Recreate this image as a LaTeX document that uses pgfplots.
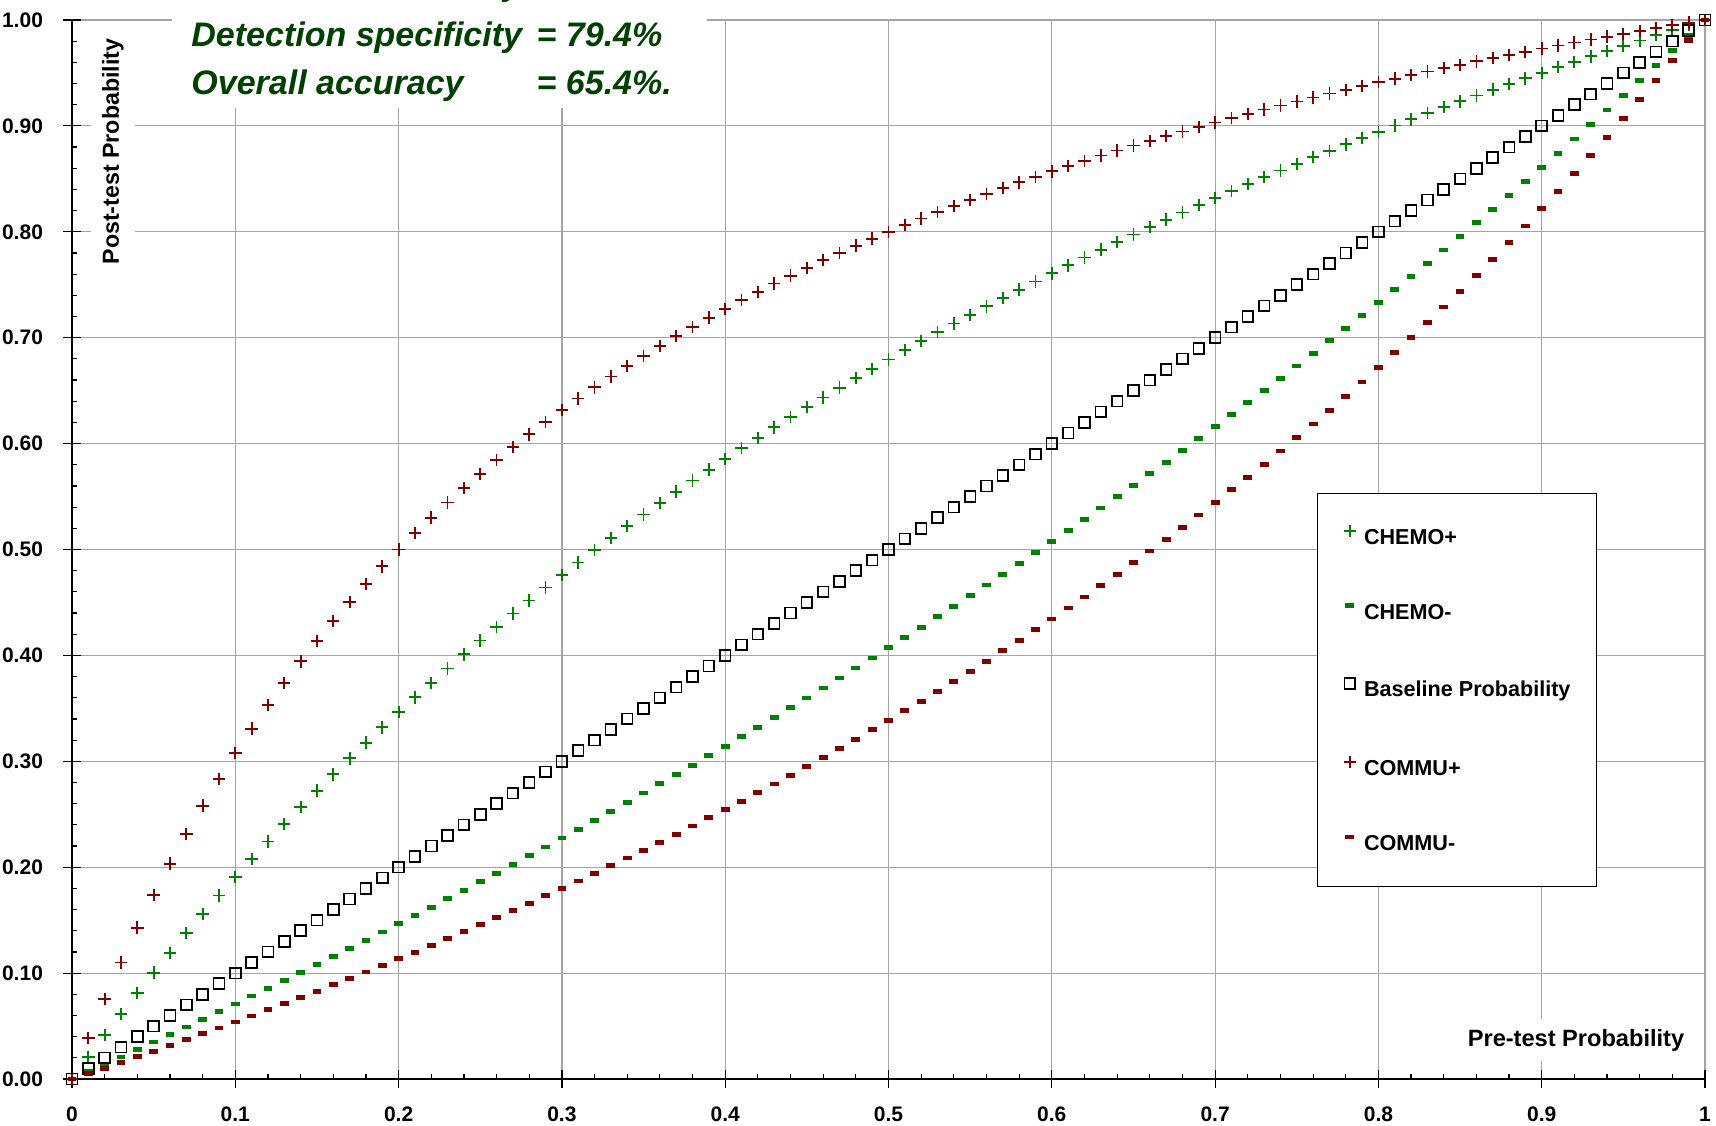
\documentclass[border=0pt]{standalone}
\usepackage{pgfplots}
\pgfplotsset{compat=1.18}
\usepackage{pgfplotstable}
\usepackage{fontspec}
\setmainfont{Liberation Sans}
\definecolor{cgreen}{RGB}{0,128,0}
\definecolor{cred}{RGB}{128,0,0}
\definecolor{tgreen}{RGB}{0,64,0}
\definecolor{gridgray}{RGB}{165,165,165}

\pgfplotstableread{
x cp cm bl mp mm
0.00 0 0 0 0 0
0.01 0.0210 0.0069 0.01 0.0388 0.0051
0.02 0.0415 0.0138 0.02 0.0755 0.0103
0.03 0.0615 0.0208 0.03 0.1101 0.0156
0.04 0.0812 0.0278 0.04 0.1429 0.0209
0.05 0.1004 0.0349 0.05 0.1739 0.0262
0.06 0.1192 0.0420 0.06 0.2034 0.0316
0.07 0.1376 0.0492 0.07 0.2314 0.0371
0.08 0.1557 0.0564 0.08 0.2581 0.0426
0.09 0.1733 0.0636 0.09 0.2835 0.0482
0.10 0.1906 0.0709 0.10 0.3077 0.0538
0.11 0.2076 0.0783 0.11 0.3308 0.0595
0.12 0.2243 0.0857 0.12 0.3529 0.0653
0.13 0.2406 0.0931 0.13 0.3741 0.0711
0.14 0.2566 0.1006 0.14 0.3944 0.0769
0.15 0.2723 0.1081 0.15 0.4138 0.0829
0.16 0.2877 0.1157 0.16 0.4324 0.0889
0.17 0.3028 0.1234 0.17 0.4503 0.0949
0.18 0.3176 0.1310 0.18 0.4675 0.1010
0.19 0.3321 0.1388 0.19 0.4841 0.1072
0.20 0.3464 0.1466 0.20 0.5000 0.1135
0.21 0.3604 0.1544 0.21 0.5153 0.1198
0.22 0.3742 0.1623 0.22 0.5301 0.1262
0.23 0.3877 0.1703 0.23 0.5444 0.1327
0.24 0.4010 0.1783 0.24 0.5581 0.1392
0.25 0.4141 0.1863 0.25 0.5714 0.1458
0.26 0.4269 0.1944 0.26 0.5843 0.1525
0.27 0.4395 0.2026 0.27 0.5967 0.1592
0.28 0.4519 0.2108 0.28 0.6087 0.1660
0.29 0.4641 0.2191 0.29 0.6203 0.1730
0.30 0.4760 0.2275 0.30 0.6316 0.1799
0.31 0.4878 0.2359 0.31 0.6425 0.1870
0.32 0.4994 0.2443 0.32 0.6531 0.1942
0.33 0.5108 0.2528 0.33 0.6633 0.2014
0.34 0.5220 0.2614 0.34 0.6733 0.2087
0.35 0.5330 0.2700 0.35 0.6829 0.2161
0.36 0.5439 0.2787 0.36 0.6923 0.2236
0.37 0.5546 0.2875 0.37 0.7014 0.2312
0.38 0.5651 0.2963 0.38 0.7103 0.2389
0.39 0.5754 0.3052 0.39 0.7189 0.2466
0.40 0.5856 0.3141 0.40 0.7273 0.2545
0.41 0.5957 0.3231 0.41 0.7354 0.2624
0.42 0.6055 0.3322 0.42 0.7434 0.2705
0.43 0.6153 0.3414 0.43 0.7511 0.2786
0.44 0.6249 0.3506 0.44 0.7586 0.2869
0.45 0.6343 0.3598 0.45 0.7660 0.2952
0.46 0.6436 0.3692 0.46 0.7731 0.3037
0.47 0.6528 0.3786 0.47 0.7801 0.3123
0.48 0.6618 0.3881 0.48 0.7869 0.3209
0.49 0.6707 0.3976 0.49 0.7935 0.3297
0.50 0.6795 0.4072 0.50 0.8000 0.3386
0.51 0.6881 0.4169 0.51 0.8063 0.3476
0.52 0.6967 0.4267 0.52 0.8125 0.3568
0.53 0.7051 0.4365 0.53 0.8185 0.3660
0.54 0.7134 0.4464 0.54 0.8244 0.3754
0.55 0.7215 0.4564 0.55 0.8302 0.3849
0.56 0.7296 0.4665 0.56 0.8358 0.3945
0.57 0.7375 0.4766 0.57 0.8413 0.4043
0.58 0.7454 0.4868 0.58 0.8467 0.4142
0.59 0.7531 0.4971 0.59 0.8520 0.4242
0.60 0.7608 0.5075 0.60 0.8571 0.4344
0.61 0.7683 0.5180 0.61 0.8622 0.4447
0.62 0.7757 0.5285 0.62 0.8671 0.4551
0.63 0.7831 0.5391 0.63 0.8720 0.4658
0.64 0.7903 0.5498 0.64 0.8767 0.4765
0.65 0.7975 0.5606 0.65 0.8814 0.4874
0.66 0.8045 0.5715 0.66 0.8859 0.4985
0.67 0.8115 0.5824 0.67 0.8904 0.5097
0.68 0.8183 0.5935 0.68 0.8947 0.5211
0.69 0.8251 0.6046 0.69 0.8990 0.5326
0.70 0.8318 0.6158 0.70 0.9032 0.5443
0.71 0.8385 0.6271 0.71 0.9073 0.5563
0.72 0.8450 0.6385 0.72 0.9114 0.5683
0.73 0.8515 0.6500 0.73 0.9154 0.5806
0.74 0.8578 0.6616 0.74 0.9193 0.5930
0.75 0.8641 0.6733 0.75 0.9231 0.6057
0.76 0.8704 0.6851 0.76 0.9268 0.6185
0.77 0.8765 0.6970 0.77 0.9305 0.6316
0.78 0.8826 0.7089 0.78 0.9341 0.6448
0.79 0.8886 0.7210 0.79 0.9377 0.6582
0.80 0.8945 0.7332 0.80 0.9412 0.6719
0.81 0.9004 0.7455 0.81 0.9446 0.6858
0.82 0.9062 0.7579 0.82 0.9480 0.6999
0.83 0.9119 0.7703 0.83 0.9513 0.7143
0.84 0.9176 0.7829 0.84 0.9545 0.7289
0.85 0.9232 0.7956 0.85 0.9577 0.7437
0.86 0.9287 0.8084 0.86 0.9609 0.7588
0.87 0.9342 0.8214 0.87 0.9640 0.7741
0.88 0.9396 0.8344 0.88 0.9670 0.7897
0.89 0.9449 0.8475 0.89 0.9700 0.8055
0.90 0.9502 0.8608 0.90 0.9730 0.8217
0.91 0.9554 0.8742 0.91 0.9759 0.8381
0.92 0.9606 0.8876 0.92 0.9787 0.8548
0.93 0.9657 0.9013 0.93 0.9815 0.8718
0.94 0.9708 0.9150 0.94 0.9843 0.8892
0.95 0.9758 0.9288 0.95 0.9870 0.9068
0.96 0.9807 0.9428 0.96 0.9897 0.9247
0.97 0.9856 0.9569 0.97 0.9923 0.9430
0.98 0.9905 0.9712 0.98 0.9949 0.9617
0.99 0.9953 0.9855 0.99 0.9975 0.9807
1.00 1 1 1 1 1
}\datatable

\begin{document}
\begin{tikzpicture}
\begin{axis}[
  name=ax, scale only axis, width=816.5pt, height=529.5pt,
  xmin=0, xmax=1, ymin=0, ymax=1,
  axis x line=bottom, axis y line=left,
  axis line style={-, line width=0.6pt, black},
  clip=false,
  xtick={0,0.1,0.2,0.3,0.4,0.5,0.6,0.7,0.8,0.9,1},
  ytick={0,0.1,0.2,0.3,0.4,0.5,0.6,0.7,0.8,0.9,1},
  minor x tick num=4, minor y tick num=4,
  tick align=center, major tick length=9pt, minor tick length=2.5pt,
  tick style={black, line width=0.6pt},
  minor x tick style={yshift=1.25pt}, minor y tick style={xshift=1.25pt},
  grid=major, major grid style={gridgray, line width=0.6pt},
  /pgf/number format/assume math mode=true,
  ticklabel style={font=\bfseries\fontsize{10.5}{12}\selectfont},
  yticklabel style={/pgf/number format/.cd, fixed, fixed zerofill, precision=2, /tikz/.cd, xshift=-6.5pt},
  xticklabel style={yshift=-5.8pt},
  legend style={at={(0.7624,0.5534)}, anchor=north west, draw=black, line width=0.6pt, fill=white,
    inner xsep=13pt, inner ysep=15.5pt, row sep=27pt,
    font=\bfseries\fontsize{10.8}{13}\selectfont,
    nodes={inner sep=0pt, text height=8pt, text depth=2.5pt},
    /tikz/every odd column/.append style={column sep=4pt}},
  legend cell align=left,
  legend image code/.code={\draw[#1] plot coordinates {(0pt,3.9pt)};},
]
\fill[white] (axis cs:0.0612,0.917) rectangle (axis cs:0.3889,1.03);
\node[fill=white, rotate=90, inner xsep=8pt, inner ysep=5.5pt, font=\bfseries\fontsize{11.6}{14}\selectfont] at (rel axis cs:0.0251,0.8758) {Post-test Probability};
\node[fill=white, inner sep=5pt, font=\bfseries\fontsize{11.8}{14}\selectfont] at (rel axis cs:0.921,0.0364) {Pre-test Probability};
\begin{scope}[every node/.style={anchor=base west, inner sep=0pt, text=tgreen, font=\bfseries\itshape\fontsize{17}{20}\selectfont}]
\node at (axis cs:0.0729,1.0227) {Detection sensitivity};
\node at (axis cs:0.2843,1.0227) {= 51.5\%};
\node at (axis cs:0.0729,0.9745) {Detection specificity};
\node at (axis cs:0.2843,0.9745) {= 79.4\%};
\node at (axis cs:0.0729,0.9301) {Overall accuracy};
\node at (axis cs:0.2843,0.9301) {= 65.4\%.};
\end{scope}
\addplot[only marks, color=cgreen, mark=+, mark size=3.1pt, mark options={line width=0.9pt}] table[x=x, y=cp] {\datatable};
\addlegendentry{CHEMO+}
\addplot[only marks, color=cgreen, mark=-, mark size=2.2pt, mark options={line width=2.4pt}] table[x=x, y=cm] {\datatable};
\addlegendentry{CHEMO-}
\addplot[only marks, color=black, mark=square, mark size=2.7pt, mark options={line width=0.85pt}] table[x=x, y=bl] {\datatable};
\addlegendentry{Baseline Probability}
\addplot[only marks, color=cred, mark=+, mark size=3.1pt, mark options={line width=0.9pt}] table[x=x, y=mp] {\datatable};
\addlegendentry{COMMU+}
\addplot[only marks, color=cred, mark=-, mark size=2.2pt, mark options={line width=2.4pt}] table[x=x, y=mm] {\datatable};
\addlegendentry{COMMU-}
\end{axis}
\pgfresetboundingbox
\path[use as bounding box] ([shift={(-36pt,-23pt)}]ax.south west) rectangle ([shift={(5.5pt,10pt)}]ax.north east);
\end{tikzpicture}
\end{document}
